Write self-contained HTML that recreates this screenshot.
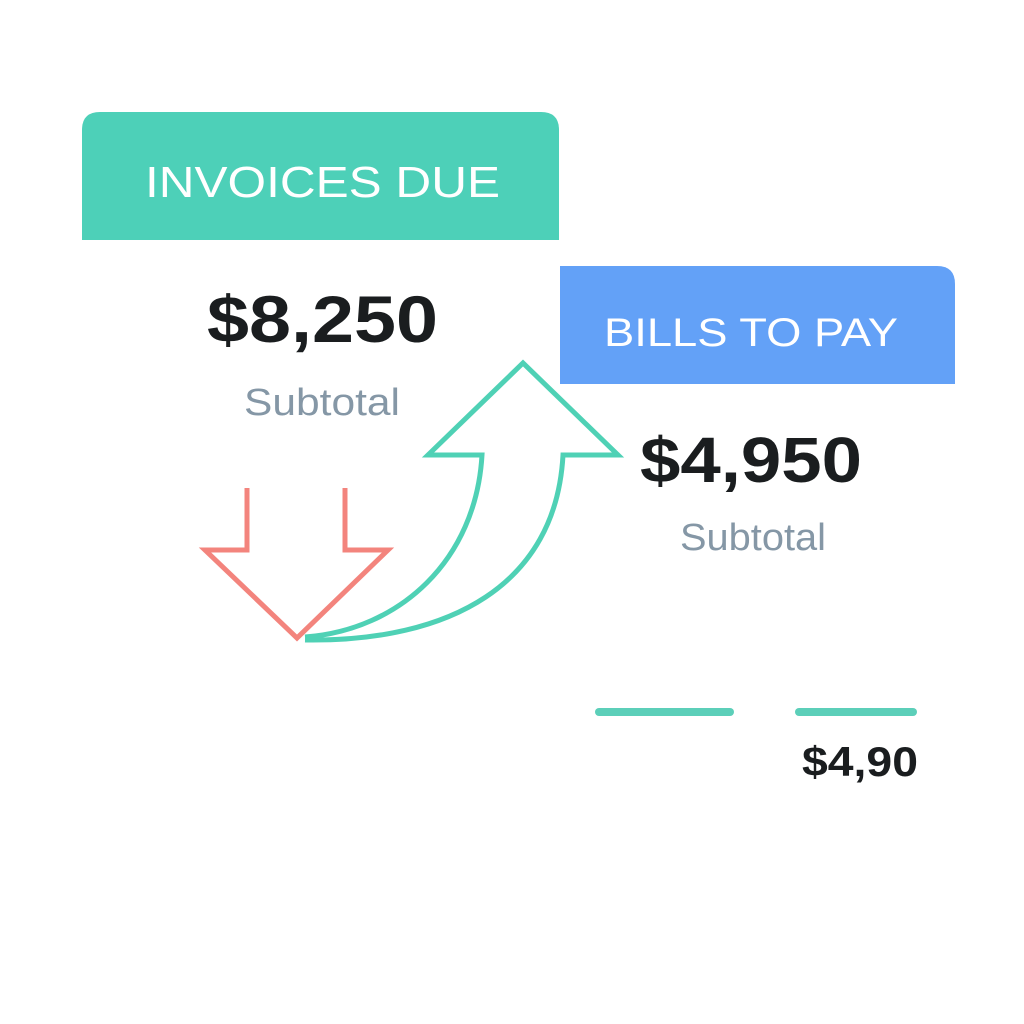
<!DOCTYPE html>
<html><head><meta charset="utf-8"><style>
html,body{margin:0;padding:0;background:#fff;}
svg{display:block;}
text{font-family:"Liberation Sans",sans-serif;}
</style></head><body>
<svg width="1024" height="1024" viewBox="0 0 1024 1024" xmlns="http://www.w3.org/2000/svg">
<rect width="1024" height="1024" fill="#fff"/>
<path d="M82 240 V130 Q82 112 100 112 H541 Q559 112 559 130 V240 Z" fill="#4dd0b8"/>
<text x="145" y="197" font-size="44" fill="#fff" font-weight="500" textLength="355" lengthAdjust="spacingAndGlyphs">INVOICES DUE</text>
<path d="M560 384 V266 H937 Q955 266 955 284 V384 Z" fill="#63a1f7"/>
<text x="604" y="346" font-size="40" fill="#fff" textLength="294" lengthAdjust="spacingAndGlyphs">BILLS TO PAY</text>
<text x="207" y="342" font-size="66" font-weight="bold" fill="#1a1d1f" textLength="231" lengthAdjust="spacingAndGlyphs">$8,250</text>
<text x="244" y="415" font-size="38" fill="#8597a6" textLength="156" lengthAdjust="spacingAndGlyphs">Subtotal</text>
<text x="640" y="482" font-size="64" font-weight="bold" fill="#1a1d1f" textLength="222" lengthAdjust="spacingAndGlyphs">$4,950</text>
<text x="680" y="550" font-size="38" fill="#8597a6" textLength="146" lengthAdjust="spacingAndGlyphs">Subtotal</text>
<path d="M247 488 V550 H205 L297 638 L388 550 H345 V488" fill="none" stroke="#f3847d" stroke-width="5" stroke-linejoin="miter"/>
<path d="M305 637 C400 630 476 560 482 455 H428 L523 363 L618 455 H563 C556 585 450 642 305 640" fill="none" stroke="#4fd1b5" stroke-width="5" stroke-linejoin="miter"/>
<line x1="599" y1="712" x2="730" y2="712" stroke="#5ccfb9" stroke-width="8" stroke-linecap="round"/>
<line x1="799" y1="712" x2="913" y2="712" stroke="#5ccfb9" stroke-width="8" stroke-linecap="round"/>
<text x="802" y="776" font-size="42" font-weight="bold" fill="#1a1d1f" textLength="116" lengthAdjust="spacingAndGlyphs">$4,90</text>
</svg>
</body></html>
